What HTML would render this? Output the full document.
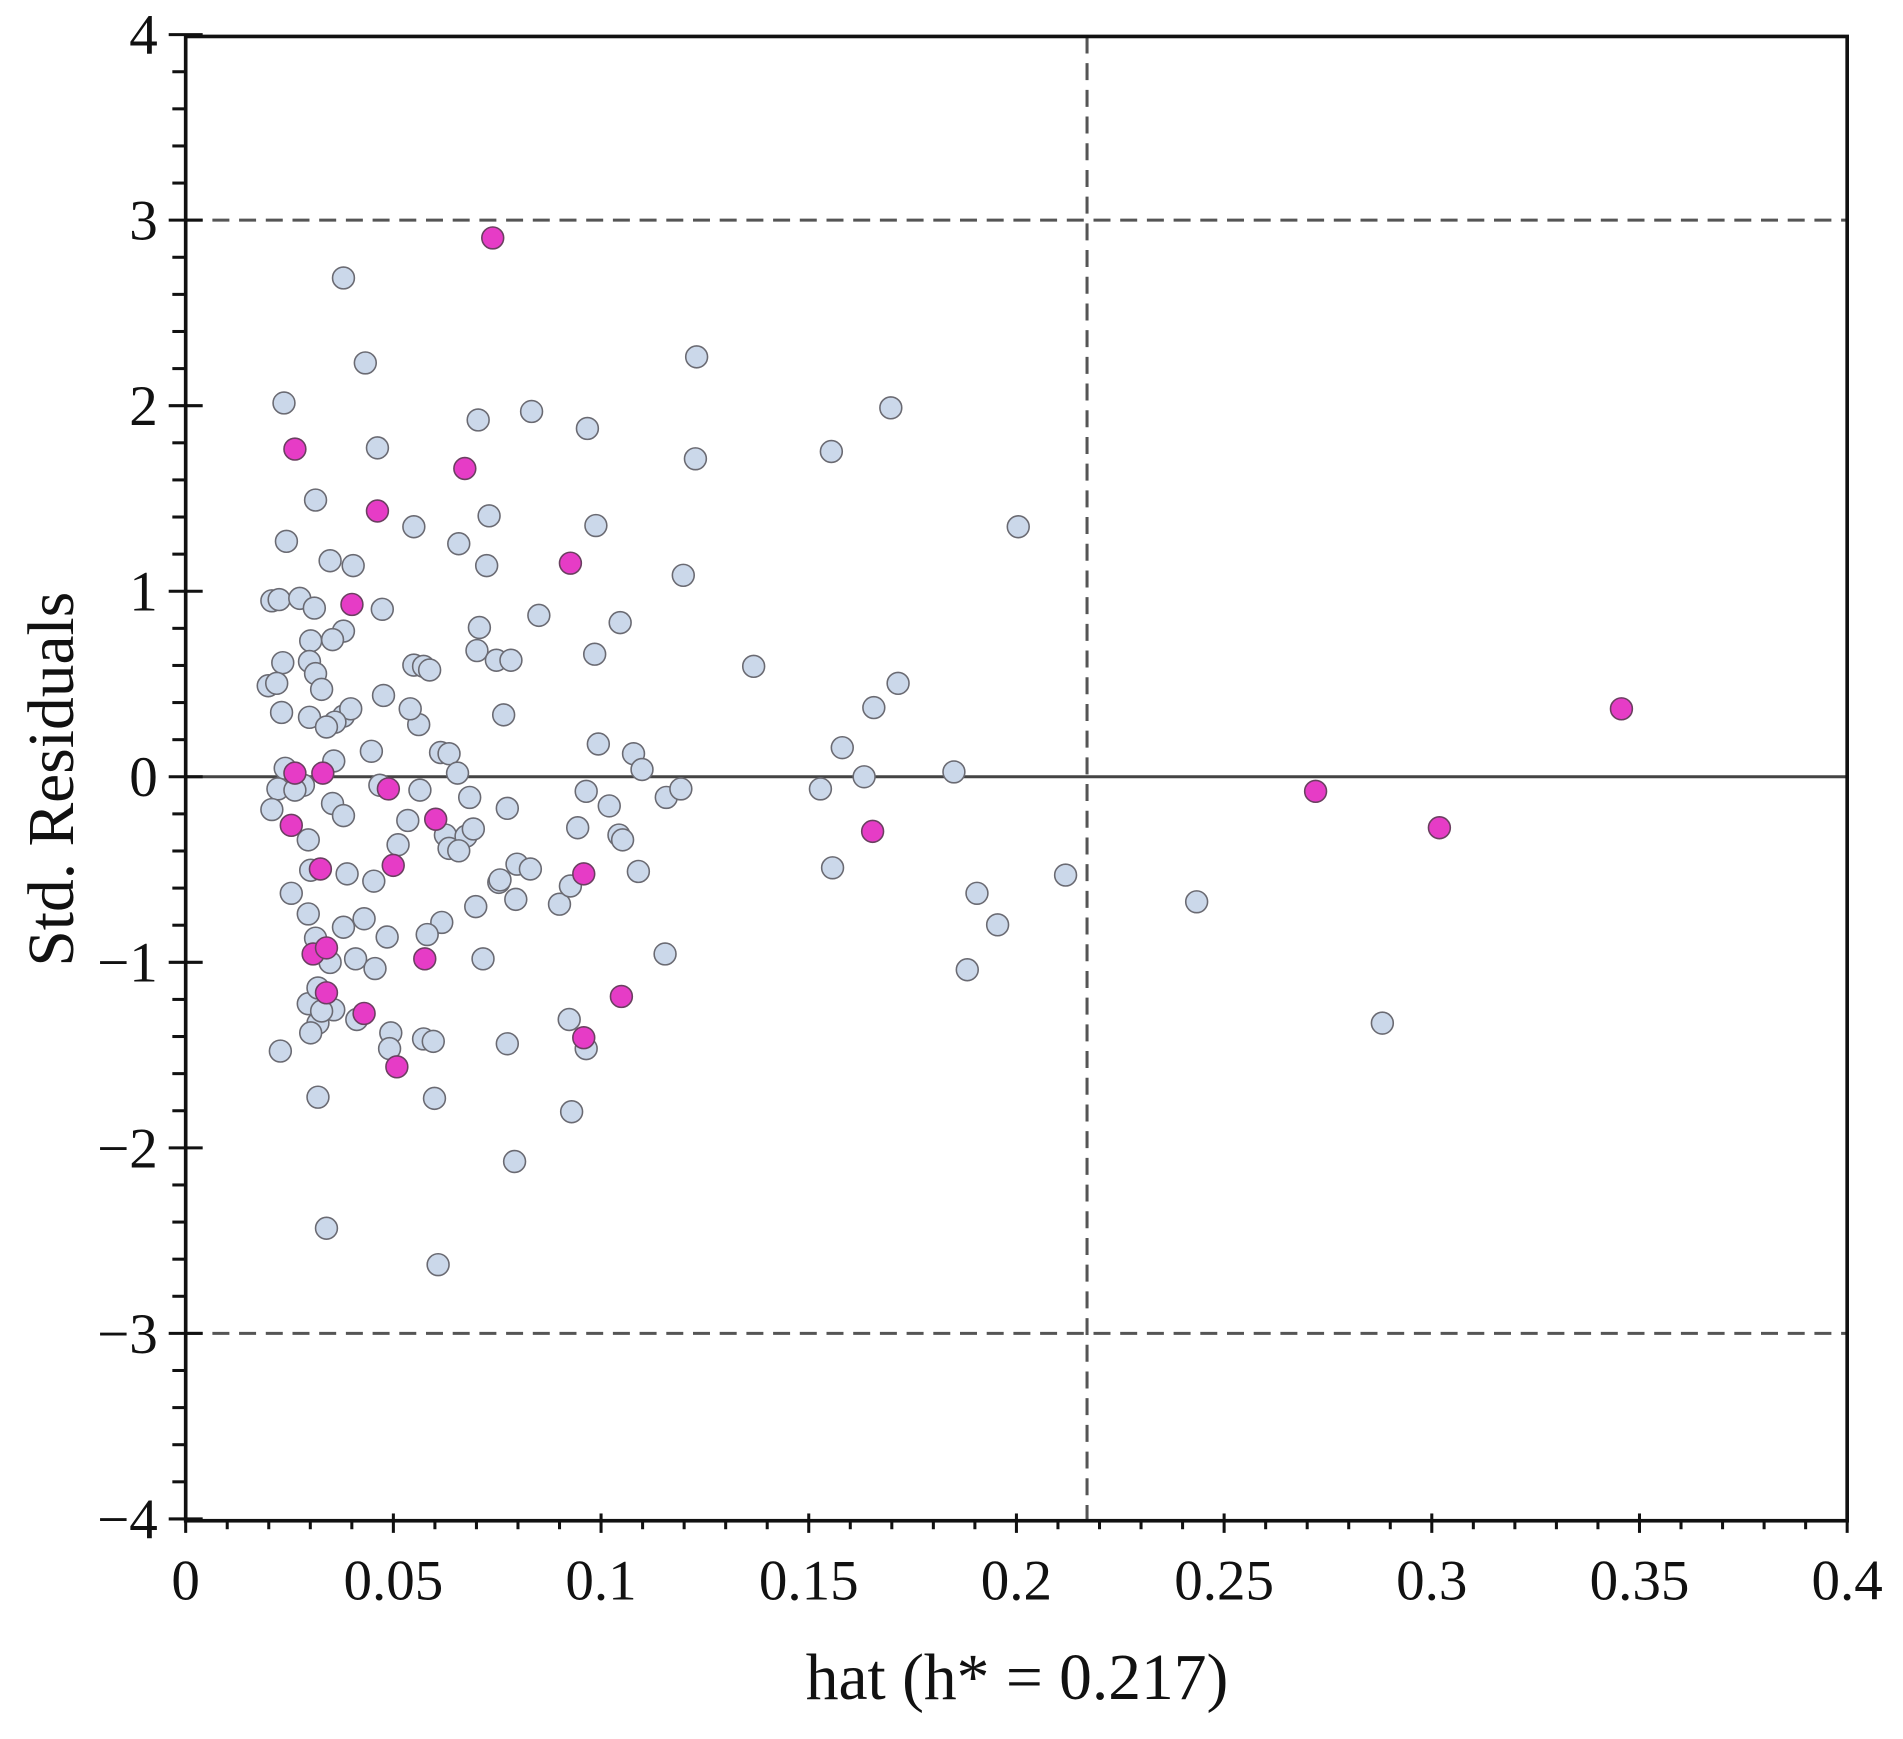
<!DOCTYPE html>
<html><head><meta charset="utf-8"><style>
html,body{margin:0;padding:0;background:#fff;}
svg{display:block;}
text{font-family:"Liberation Serif",serif;fill:#111;}
</style></head><body>
<svg id="s" width="1903" height="1739" viewBox="0 0 1568 1432.8" xmlns="http://www.w3.org/2000/svg">
<rect x="0" y="0" width="1568" height="1433" fill="#fff"/>
<g id="grid"></g>
<g id="pts"></g>
<g id="axes"></g>
<text x="838" y="1400" font-size="54" text-anchor="middle">hat (h* = 0.217)</text>
<text transform="translate(60,642) rotate(-90)" font-size="54" text-anchor="middle">Std. Residuals</text>
</svg>
<script>
const NS="http://www.w3.org/2000/svg";
const L=153,R=1522,T=30,B=1253;
const X=v=>L+v*(R-L)/0.4, Y=v=>640-v*(B-T)/8;
function el(p,tag,a,txt){const e=document.createElementNS(NS,tag);for(const k in a)e.setAttribute(k,a[k]);if(txt!==undefined)e.textContent=txt;document.getElementById(p).appendChild(e);return e;}
el('grid','line',{x1:L,x2:R,y1:Y(3),y2:Y(3),stroke:'#555','stroke-width':2.5,'stroke-dasharray':'14 8'});
el('grid','line',{x1:L,x2:R,y1:Y(-3),y2:Y(-3),stroke:'#555','stroke-width':2.5,'stroke-dasharray':'14 8'});
el('grid','line',{x1:X(0.217),x2:X(0.217),y1:T,y2:B,stroke:'#555','stroke-width':2.5,'stroke-dasharray':'14 8'});
el('grid','line',{x1:L,x2:R,y1:640,y2:640,stroke:'#444','stroke-width':2.5});
const light=[[283,229],[301,299],[574,294],[234,332],[311,369],[394,346],[438,339],[484,353],[734,336],[573,378],[685,372],[260,412],[341,434],[236,446],[378,448],[403,425],[491,433],[839,434],[272,462],[291,466],[401,466],[563,474],[224,495],[230,494],[247,493],[259,501],[315,502],[444,507],[511,513],[395,517],[283,520],[256,528],[274,527],[233,546],[255,545],[260,555],[341,548],[349,549],[354,552],[393,536],[409,544],[421,544],[490,539],[621,549],[221,565],[228,563],[265,568],[316,573],[232,587],[255,591],[283,590],[289,584],[276,595],[269,599],[345,597],[338,584],[415,589],[740,563],[720,583],[306,619],[363,620],[370,621],[493,613],[522,621],[529,634],[694,616],[275,627],[377,637],[712,640],[786,636],[235,633],[229,650],[250,647],[243,651],[313,647],[346,651],[387,657],[483,652],[502,664],[549,657],[561,650],[676,650],[224,667],[274,662],[283,672],[336,676],[418,666],[476,682],[510,688],[513,692],[367,688],[384,689],[370,699],[328,696],[254,692],[390,683],[378,701],[286,720],[256,717],[411,727],[426,712],[437,716],[412,725],[526,718],[686,715],[878,721],[240,736],[308,726],[254,753],[300,757],[392,747],[425,741],[461,745],[470,730],[364,760],[352,770],[319,772],[283,764],[805,736],[822,762],[986,743],[260,773],[272,793],[293,790],[309,798],[398,790],[548,786],[797,799],[254,827],[275,832],[262,843],[256,851],[294,840],[322,851],[349,856],[357,858],[418,860],[469,840],[483,864],[231,866],[321,864],[1139,843],[262,904],[358,905],[471,916],[424,957],[269,1012],[361,1042],[262,814],[265,833]];
const pink=[[406,196],[243,370],[383,386],[311,421],[470,464],[290,498],[243,637],[266,637],[320,650],[240,680],[359,675],[264,716],[324,713],[481,720],[719,685],[1084,652],[1186,682],[1336,584],[258,786],[269,781],[350,790],[269,818],[300,835],[327,879],[481,855],[512,821]];
light.forEach(p=>el('pts','circle',{cx:p[0],cy:p[1],r:9,fill:'#cbd8ea',stroke:'#6a6a72','stroke-width':1.3}));
pink.forEach(p=>el('pts','circle',{cx:p[0],cy:p[1],r:9,fill:'#e63cc6',stroke:'#6a4060','stroke-width':1.3}));
el('axes','rect',{x:L,y:T,width:R-L,height:B-T,fill:'none',stroke:'#111','stroke-width':3});
for(let i=0;i<=40;i++){const x=X(i*0.01);const maj=i%5==0;
 el('axes','line',{x1:x,x2:x,y1:maj?B-6:B,y2:maj?B+10:B+7,stroke:'#111','stroke-width':2.5});
 if(maj){const v=i/100;let s=v===0?'0':String(+v.toFixed(2));
 el('axes','text',{x:x,y:1318,'font-size':47,'text-anchor':'middle'},s);}}
for(let i=0;i<=40;i++){const v=-4+i*0.2;const y=Y(v);const maj=i%5==0;
 el('axes','line',{x1:maj?L-14:L-11,x2:maj?L+14:L,y1:y,y2:y,stroke:'#111','stroke-width':2.5});
 if(maj){const n=Math.round(v);const s=n<0?'\u2212'+(-n):String(n);
 el('axes','text',{x:130,y:y+16,'font-size':47,'text-anchor':'end'},s);}}
</script>
</body></html>
